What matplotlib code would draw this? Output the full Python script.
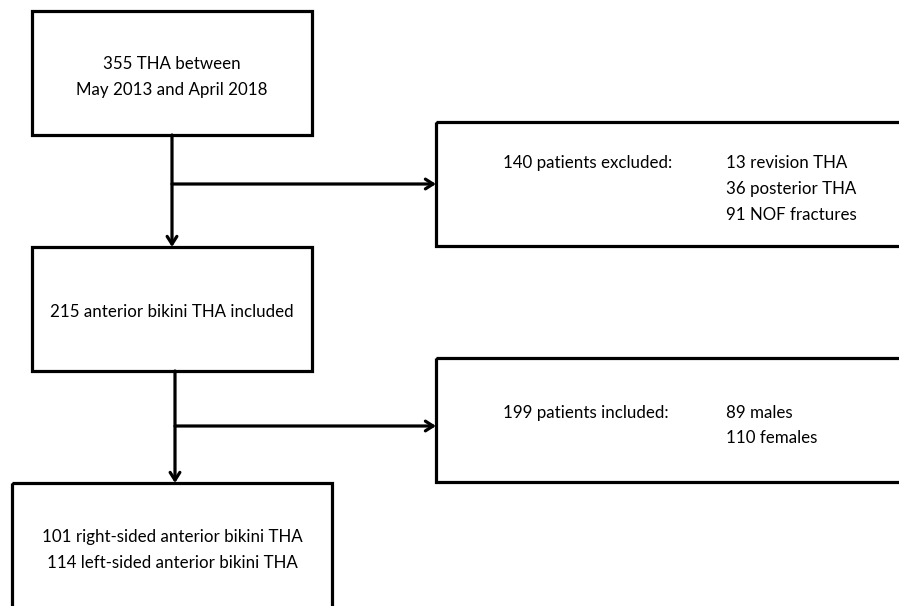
import matplotlib.pyplot as plt
from matplotlib.patches import Rectangle

plt.rcParams['font.family'] = ['Lato', 'DejaVu Sans']

# box texts
start_lines = ['355 THA between', 'May 2013 and April 2018']
included_text = '215 anterior bikini THA included'
final_lines = ['101 right-sided anterior bikini THA', '114 left-sided anterior bikini THA']
excluded_label = '140 patients excluded:'
excluded_items = ['13 revision THA', '36 posterior THA', '91 NOF fractures']
sex_label = '199 patients included:'
sex_items = ['89 males', '110 females']

W, H = 899, 606
fig = plt.figure(figsize=(W / 100, H / 100), dpi=100)
ax = fig.add_axes([0, 0, 1, 1])
ax.set_xlim(0, W)
ax.set_ylim(H, 0)
ax.axis('off')

LW = 2.3
FS = 12.2


def box(x0, y0, x1, y1):
    ax.add_patch(Rectangle((x0, y0), x1 - x0, y1 - y0, fill=False,
                           edgecolor='black', linewidth=LW, joinstyle='miter',
                           clip_on=False))


def arrow(x0, y0, x1, y1):
    ax.annotate('', xy=(x1, y1), xytext=(x0, y0),
                arrowprops=dict(arrowstyle='->,head_length=0.55,head_width=0.35',
                                color='black', lw=LW, shrinkA=0, shrinkB=0))


# left column
box(32, 11, 312, 135)
box(32, 247, 312, 371)
box(12, 483, 332, 620)
# right column (cut off by figure edge)
box(436, 122, 910, 246)
box(436, 358, 910, 482)

# connectors
arrow(172, 135, 172, 247)
arrow(172, 184, 436, 184)
arrow(175, 371, 175, 483)
arrow(175, 426, 436, 426)

for i, s in enumerate(start_lines):
    ax.text(172, 64 + 26 * i, s, ha='center', va='center', fontsize=FS)
ax.text(172, 312, included_text, ha='center', va='center', fontsize=FS)
for i, s in enumerate(final_lines):
    ax.text(172, 537 + 26 * i, s, ha='center', va='center', fontsize=FS)

ax.text(503, 163, excluded_label, ha='left', va='center', fontsize=FS)
for i, s in enumerate(excluded_items):
    ax.text(726, 163 + 26 * i, s, ha='left', va='center', fontsize=FS)
ax.text(503, 413, sex_label, ha='left', va='center', fontsize=FS)
for i, s in enumerate(sex_items):
    ax.text(726, 413 + 25 * i, s, ha='left', va='center', fontsize=FS)

fig.savefig('out.png', dpi=100)
